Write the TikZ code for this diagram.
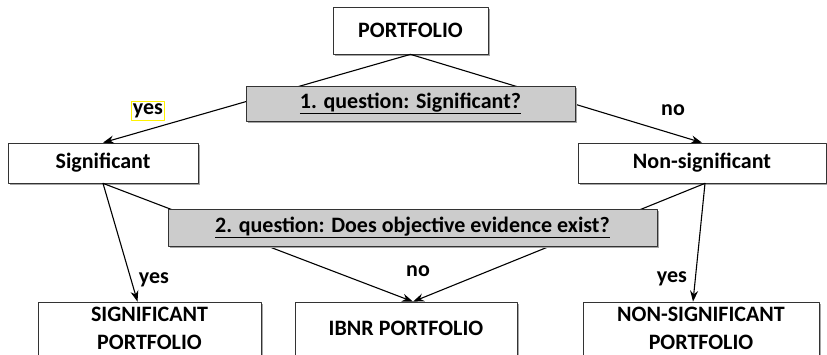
\documentclass[tikz,border=0pt]{standalone}
\usepackage{fontspec}
\setmainfont{Carlito}
\usetikzlibrary{arrows.meta,shadows}
\tikzstyle{every node}=[font=\fontsize{22}{28}\selectfont\bfseries]
\tikzstyle{box}=[draw=black!80,line width=0.7pt,fill=white,inner sep=0pt,
    drop shadow={shadow xshift=2pt,shadow yshift=-2pt,fill=black!35,opacity=1}]
\tikzstyle{qbox}=[box,fill=black!20]
\tikzstyle{endbox}=[box,minimum height=64pt]
\tikzstyle{arr}=[-{Stealth[length=11pt,width=8pt]}]

\begin{document}
\begin{tikzpicture}[x=1pt,y=-1pt,line width=1.1pt,line cap=round,line join=round]
    \clip (0,0) rectangle (827,354);

    % top and middle boxes
    \node [box,minimum width=155pt,minimum height=47pt] (portfolio) at (410.5,30.5) {PORTFOLIO};
    \node [box,minimum width=190pt,minimum height=40pt] (sig) at (103,163) {Significant};
    \node [box,minimum width=248pt,minimum height=40pt] (nonsig) at (702,163) {Non-significant};

    % result boxes (cut at the bottom)
    \node [endbox,minimum width=223pt,label={[align=center,yshift=6pt]center:SIGNIFICANT\\PORTFOLIO}] (sigport) at (149.5,334) {};
    \node [endbox,minimum width=222pt,label={[yshift=6pt]center:IBNR PORTFOLIO}] (ibnr) at (406,334) {};
    \node [endbox,minimum width=236pt,label={[align=center,yshift=6pt]center:NON-SIGNIFICANT\\PORTFOLIO}] (nonsigport) at (701,334) {};

    \draw
    % first split
    (portfolio.south) edge[arr] (sig.north)
    (portfolio.south) edge[arr] (nonsig.north)
    % second split
    (sig.south) edge[arr] ([xshift=-12pt]sigport.north)
    (sig.south) edge[arr] ([xshift=7pt]ibnr.north)
    ([xshift=3pt]nonsig.south) edge[arr] ([xshift=7pt]ibnr.north)
    ([xshift=3pt]nonsig.south) edge[arr] ([xshift=-8pt]nonsigport.north)
    ;

    % questions over the lines
    \node [qbox,minimum width=329pt,minimum height=35pt] (q1) at (410.5,103.5) {\underline{1. question: Significant?}};
    \node [qbox,minimum width=489pt,minimum height=37pt] (q2) at (412.5,227.5) {\underline{2. question: Does objective evidence exist?}};

    % answers
    \node [draw=yellow,line width=1pt,inner xsep=1pt,inner ysep=2pt] (yes1) at (148,111) {yes};
    \node (no1) at (673,110) {no};
    \node (yes2) at (154,280) {yes};
    \node (no2) at (418,271) {no};
    \node (yes3) at (672,279) {yes};
\end{tikzpicture}
\end{document}
